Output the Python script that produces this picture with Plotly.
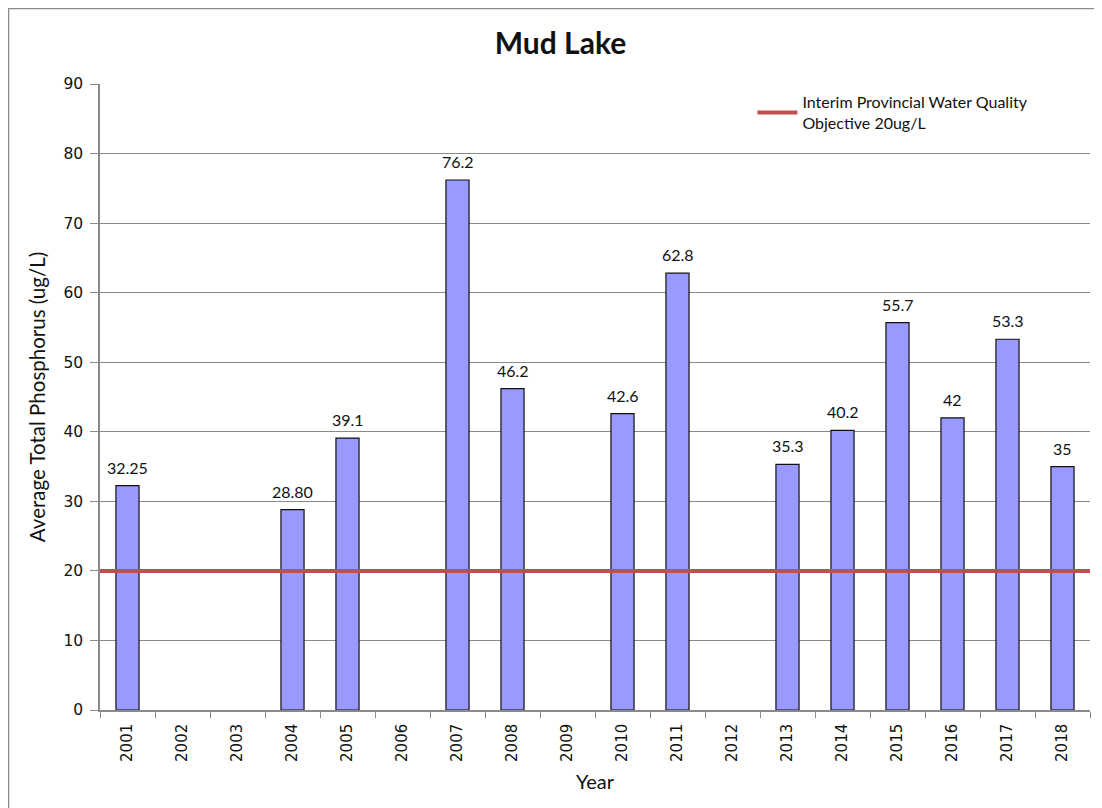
import plotly.graph_objects as go

# Mud Lake average total phosphorus by year
years = [str(y) for y in range(2001, 2019)]
phosphorus = [32.25, None, None, 28.80, 39.1, None, 76.2, 46.2, None,
              42.6, 62.8, None, 35.3, 40.2, 55.7, 42, 53.3, 35]
bar_labels = ["32.25", "", "", "28.80", "39.1", "", "76.2", "46.2", "",
              "42.6", "62.8", "", "35.3", "40.2", "55.7", "42", "53.3", "35"]
objective = 20
objective_name = "Interim Provincial Water Quality<br>Objective 20ug/L"

grid = "#8a8a8a"
label_font = "Lato, Open Sans, sans-serif"
tick_font = "DejaVu Sans, sans-serif"

fig = go.Figure()
fig.add_trace(go.Bar(
    x=years, y=phosphorus,
    marker=dict(color="#9999FF", line=dict(color="#111", width=1.2)),
    width=0.42, showlegend=False,
))

# value labels above the bars (category axis -> position by index)
for i, (val, lab) in enumerate(zip(phosphorus, bar_labels)):
    if val is None:
        continue
    fig.add_annotation(x=i, y=val, text=lab, showarrow=False, yanchor="bottom", yshift=7,
                       font=dict(family=label_font, size=16, color="#111"))

# objective line across the whole plot, also listed in the legend
fig.add_shape(type="line", xref="paper", x0=0, x1=1, yref="y", y0=objective, y1=objective,
              line=dict(color="#C0504D", width=4), showlegend=True, name=objective_name)

# outer chart border (page has an 8px body margin)
fig.add_shape(type="rect", xref="paper", yref="paper", x0=-0.0924, x1=1.03, y0=-0.2, y1=1.1206,
              line=dict(color="#8a8a8a", width=1.5), layer="below")

fig.update_layout(
    width=1094, height=800,
    margin=dict(l=92, r=12, t=76, b=98),
    paper_bgcolor="white", plot_bgcolor="white",
    title=dict(text="<b>Mud Lake</b>", x=0.505, xanchor="center", y=0.956, yanchor="middle",
               font=dict(family=label_font, size=30, color="#111")),
    legend=dict(x=0.659, y=0.998, xanchor="left", yanchor="top", bgcolor="rgba(0,0,0,0)",
                font=dict(family=label_font, size=16, color="#111"), itemwidth=40),
    xaxis=dict(
        type="category", range=[-0.5, len(years) - 0.5],
        title=dict(text="Year", font=dict(family=label_font, size=20, color="#111"), standoff=14),
        tickangle=-90, tickfont=dict(family=tick_font, size=15, color="#111"),
        ticks="outside", tickson="boundaries", ticklen=6, tickcolor=grid, ticklabelstandoff=6,
        showline=True, linecolor=grid, linewidth=1.5, showgrid=False,
    ),
    yaxis=dict(
        title=dict(text="Average Total Phosphorus (ug/L)", font=dict(family=label_font, size=20.5, color="#111"), standoff=12),
        range=[0, 90], dtick=10, tickfont=dict(family=tick_font, size=15.5, color="#111"),
        ticks="outside", ticklen=8, tickcolor=grid, ticklabelstandoff=4,
        showline=True, linecolor=grid, linewidth=1.5,
        showgrid=True, gridcolor=grid, gridwidth=1.2, zeroline=False,
    ),
)

fig.write_html("out.html")
